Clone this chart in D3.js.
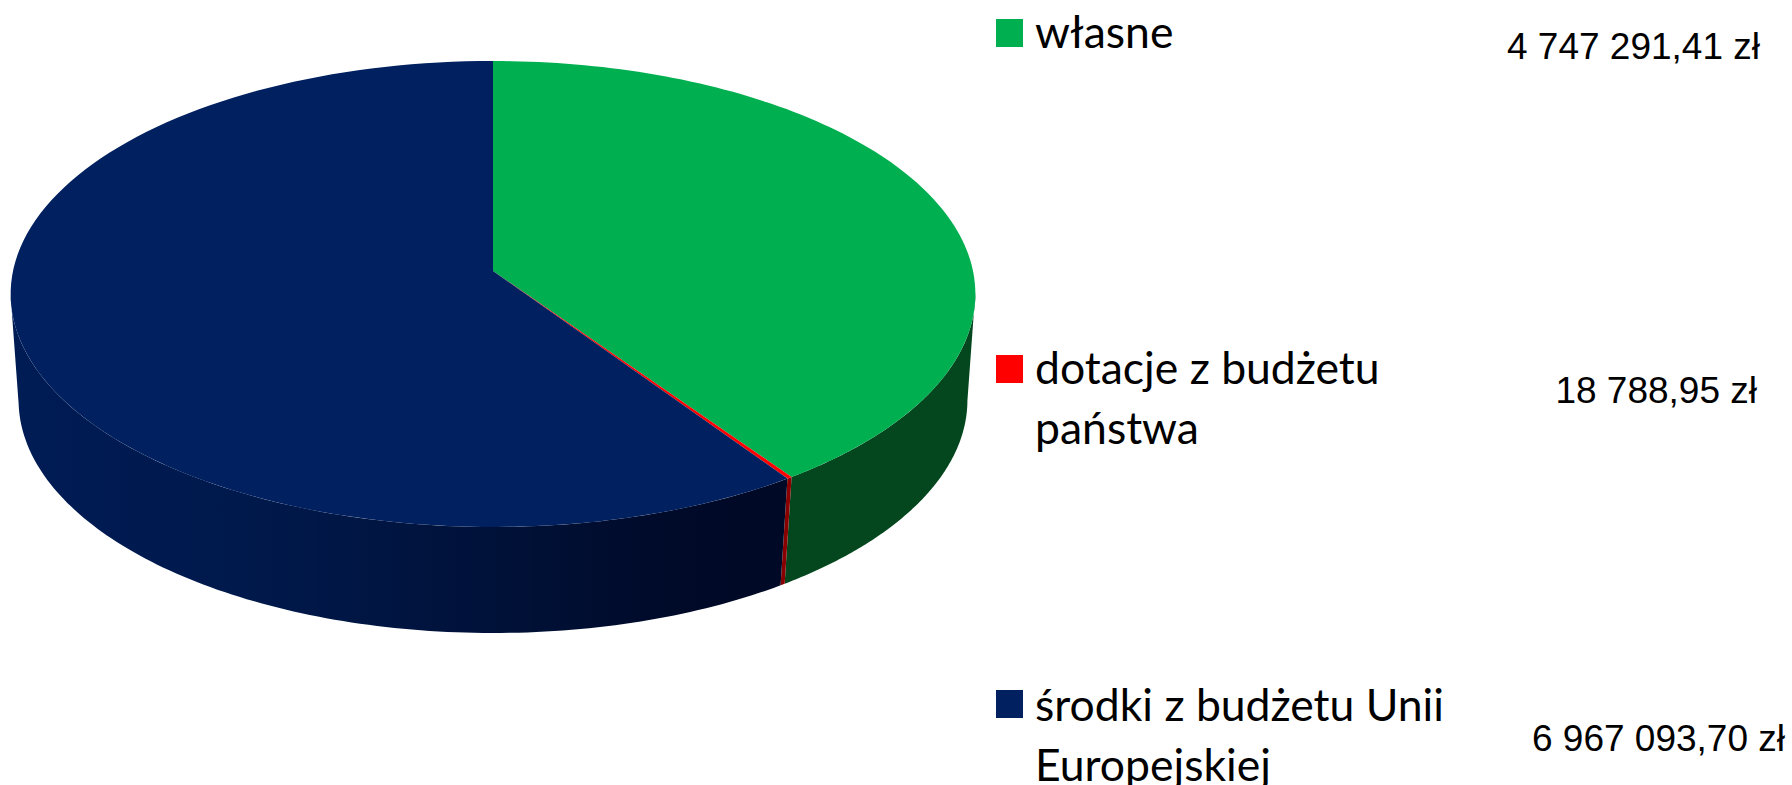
<!DOCTYPE html>
<html lang="pl"><head><meta charset="utf-8">
<style>html,body{margin:0;padding:0;background:#fff}svg{display:block}</style>
<script src="https://cdnjs.cloudflare.com/ajax/libs/d3/7.8.5/d3.min.js"></script>
</head><body><svg id="c" width="1792" height="785"></svg>
<script>
const categories = ["własne", "dotacje z budżetu państwa", "środki z budżetu Unii Europejskiej"];
const values = [4747291.41, 18788.95, 6967093.70];
const valueLabels = ["4 747 291,41 zł", "18 788,95 zł", "6 967 093,70 zł"];
const colors = ["#00b050", "#ff0000", "#002060"];
const legendLines = [["własne"], ["dotacje z budżetu", "państwa"], ["środki z budżetu Unii", "Europejskiej"]];
const swatchY = [19, 355, 690];
const legendBaseY = [48, 384, 721];
const valueBaseY = [59, 403, 751];
const valueRightX = [1760, 1757, 1785];

const svg = d3.select("#c");
const cx = 493, apexY = 271;
// Perspective mapping of a unit circle to a plane of the pie
function plane(top, bottom, c, d) {
  const b = (bottom * (1 + c) + top * (1 - c)) / 2;
  const a = (bottom * (1 + c) - top * (1 - c)) / 2;
  return th0 => {
    const th = th0 - 0.0096 * Math.sin(th0 / 2); // small angular correction of the projection
    const u = Math.sin(th), v = -Math.cos(th), w = 1 + c * v;
    return [cx + d * u / w, (a * v + b) / w];
  };
}
const topP = plane(61, 527, -0.0987, 480);
const botP = plane(167, 633, -0.09, 472.5);
const arcs = d3.pie().sort(null).value(d => d)(values);
const line = d3.line();
const sample = (p, a0, a1) => d3.range(0, 121).map(i => p(a0 + (a1 - a0) * i / 120));

const defs = svg.append("defs");
const grad = defs.append("linearGradient").attr("id", "navySide")
  .attr("gradientUnits", "userSpaceOnUse").attr("x1", 11).attr("x2", 790).attr("y1", 0).attr("y2", 0);
[[0, "#001c55"], [0.3, "#00194c"], [0.6, "#00123a"], [0.85, "#000a29"], [1, "#000925"]]
  .forEach(s => grad.append("stop").attr("offset", s[0]).attr("stop-color", s[1]));
const sideFill = ["#04471f", "#8a0000", "url(#navySide)"];

// sides: only the front part, bounded by the silhouette of the disc
const front = [Math.PI / 2 + Math.asin(0.0987), Math.PI * 1.5 - Math.asin(0.0987)];
arcs.forEach((d, i) => {
  const a0 = Math.max(d.startAngle, front[0]), a1 = Math.min(d.endAngle, front[1]);
  const pts = sample(topP, a0, a1).concat(sample(botP, a0, a1).reverse());
  svg.append("path").attr("d", line(pts) + "Z").attr("fill", sideFill[i]);
});
// top faces
arcs.forEach((d, i) => {
  const all = [[cx, apexY]].concat(sample(topP, d.startAngle, d.endAngle));
  svg.append("path").attr("d", line(all) + "Z").attr("fill", colors[i]);
});
// legend
categories.forEach((c, i) => {
  svg.append("rect").attr("x", 996).attr("y", swatchY[i]).attr("width", 27).attr("height", 28).attr("fill", colors[i]);
  legendLines[i].forEach((t, j) => {
    svg.append("text").attr("x", 1035).attr("y", legendBaseY[i] + j * 60)
      .attr("font-family", "Lato, Carlito, sans-serif").attr("font-size", 44.5).attr("fill", "#000").text(t);
  });
  svg.append("text").attr("x", valueRightX[i]).attr("y", valueBaseY[i]).attr("text-anchor", "end")
    .attr("font-family", "'Liberation Sans', Arial, sans-serif").attr("font-size", 37).attr("fill", "#000").text(valueLabels[i]);
});
</script></body></html>
